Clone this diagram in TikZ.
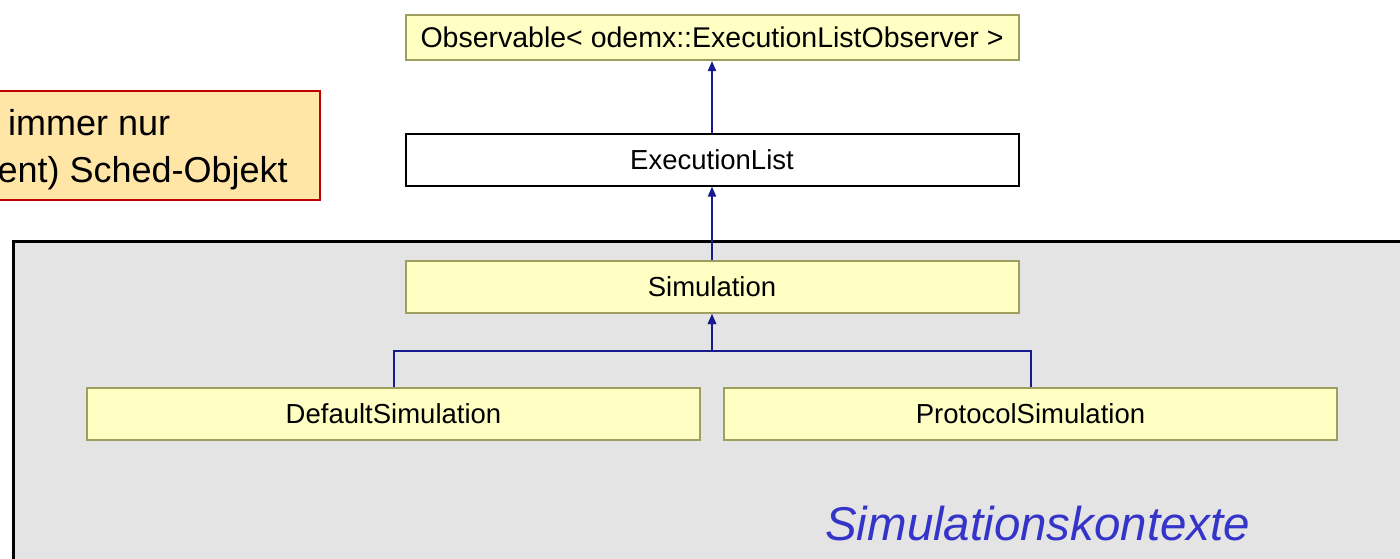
\documentclass[tikz,border=0pt]{standalone}
\usepackage{fontspec}
\setmainfont{Liberation Sans}
\usetikzlibrary{arrows.meta}
\definecolor{boxfill}{HTML}{FFFFC4}
\definecolor{boxline}{HTML}{9E9E5E}
\definecolor{ctxgray}{HTML}{E4E4E4}
\definecolor{notefill}{HTML}{FFE5A6}
\definecolor{noteline}{HTML}{C00000}
\definecolor{arrblue}{HTML}{1A1A90}
\definecolor{ctxblue}{HTML}{3434C8}
\begin{document}
\begin{tikzpicture}[x=1pt,y=-1pt,
  cls/.style={draw=boxline,fill=boxfill,line width=2pt,minimum width=613pt,minimum height=52pt,inner sep=0pt,font=\fontsize{27.5}{30}\selectfont},
  conn/.style={draw=arrblue,line width=2pt,-{Triangle[length=10pt,width=8pt]}},
  notetext/.style={inner sep=0pt,font=\fontsize{36}{40}\selectfont}]
\useasboundingbox (0,0) rectangle (1400,558);
\clip (0,0) rectangle (1400,558);
% note
\node[draw=noteline,fill=notefill,line width=1.5pt,minimum width=340pt,minimum height=109pt,inner sep=0pt] (note) at (150,145.5) {};
\node[notetext,anchor=base west] (n1) at (8,135) {immer nur};
\node[notetext,anchor=base east] (n2) at (288,182) {ent) Sched-Objekt};
% context region
\node[draw=black,fill=ctxgray,line width=2.5pt,minimum width=1420pt,minimum height=340pt,anchor=north west,inner sep=0pt] (ctx) at (12,240) {};
\node[anchor=base west,inner sep=0pt,text=ctxblue,font=\fontsize{47.5}{50}\selectfont\itshape] (lbl) at (825,540) {Simulationskontexte};
% classes
\node[cls,minimum height=45pt,font=\fontsize{28.5}{30}\selectfont] (obs) at (712,37.5) {Observable< odemx::ExecutionListObserver >};
\node[cls,draw=black,fill=white] (el) at (712,159.5) {ExecutionList};
\node[cls] (sim) at (712,287) {Simulation};
\node[cls] (def) at (393.5,414) {DefaultSimulation};
\node[cls] (prot) at (1030.5,414) {ProtocolSimulation};
\coordinate (j) at (712,351);
% connectors
\draw[conn] (el.north) -- (obs.south);
\draw[conn] (sim.north) -- (el.south);
\draw[conn] (def.north) |- (j) -- (sim.south);
\draw[conn] (prot.north) |- (j) -- (sim.south);
\end{tikzpicture}
\end{document}
